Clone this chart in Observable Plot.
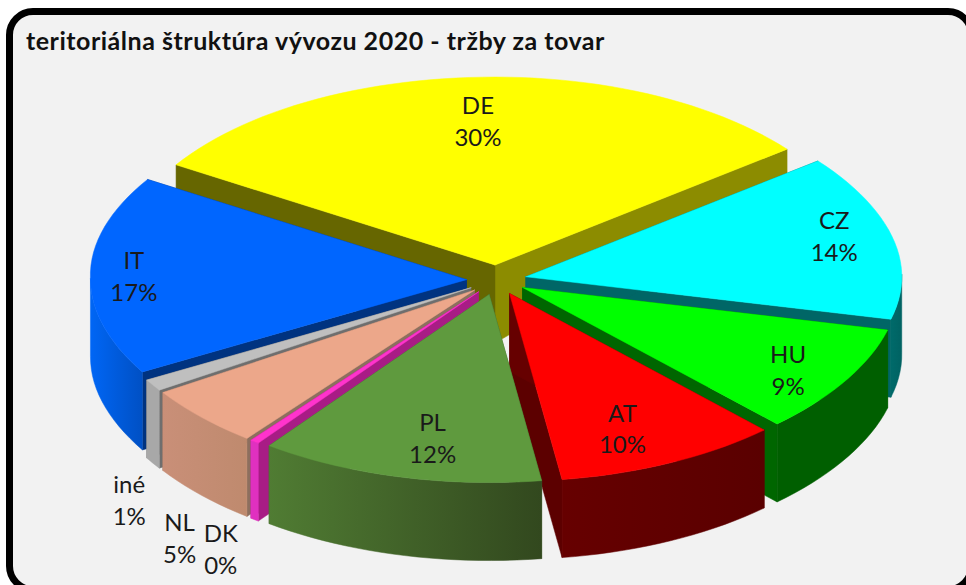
<!DOCTYPE html>
<html><head><meta charset="utf-8">
<style>
html,body{margin:0;padding:0;background:#fff;width:966px;height:585px;overflow:hidden}
#frame{position:absolute;left:6px;top:8px;width:969px;height:585px;box-sizing:border-box;border:7.5px solid #000;border-radius:27px;background:#f2f2f2}
#chart{position:absolute;left:0;top:0}
#title{position:absolute;left:26px;top:25px;font:bold 25px Lato,"Open Sans",sans-serif;letter-spacing:.52px;color:#111;white-space:nowrap}
svg{background:transparent !important}
</style>
<script src="https://cdn.jsdelivr.net/npm/d3@7"></script>
<script src="https://cdn.jsdelivr.net/npm/@observablehq/plot@0.6"></script>
</head><body>
<div id="frame"></div><div id="chart"></div>
<div id="title">teritoriálna štruktúra vývozu 2020 - tržby za tovar</div>
<script>
const categories = ["DE","CZ","HU","AT","PL","DK","NL","iné","IT"];
const shares     = [30.49,14.2,9.3,9.8,12.4,0.4,5.3,1.0,17.11];
const topColors  = ["#ffff00","#00ffff","#00ff00","#ff0000","#5f9a3e","#ff33cc","#eca78a","#bfbfbf","#0066ff"];
const startFace  = ["#666600","#006666","#006600","#660000","#3f5c28","#a81c85","#8c6f5e","#6e6e6e","#003380"];
const endFace    = ["#8c8c00","#006666","#006600","#5c0000","#3f5c28","#a81c85","#8c6f5e","#6e6e6e","#003380"];
const rimLeft    = ["#666600","#006a6a","#005f00","#660000","#507c33","#e030c0","#c98f78","#a8a8a8","#0066f5"];
const rimRight   = ["#8c8c00","#006262","#005f00","#5a0000","#32481e","#e030c0","#bf8a6e","#a8a8a8","#0050c4"];
const drawOrder  = ["DE","CZ","IT","HU","iné","NL","DK","AT","PL"];
const labelReachX = [0.89,0.84,0.814,0.69,0.615,1.133,1.064,1.062,0.885];
const labelReachY = [0.76,0.97,0.902,0.808,0.797,1.727,1.964,2.20,0.33];

// pie model
const firstAngle = 302.2, cx = 496, cy = 279.5, rx = 370, rxBulge = 6, backLeftBulge = 10, labelRx = 376, ry = 188, explode = 30;
const rad = a => a * Math.PI / 180;
const total = d3.sum(shares);
let acc = firstAngle;
const wedges = categories.map((name, i) => {
  const a0 = acc, a1 = acc + shares[i] / total * 360; acc = a1;
  const mid = (a0 + a1) / 2;
  const ax = cx + explode * Math.sin(rad(mid));
  const ay = cy - explode * 0.5 * Math.cos(rad(mid));
  return {name, i, a0, a1, mid, ax, ay, share: shares[i]};
});
const depth = y => Math.max(25, Math.min(78, 25 + (y - 150) * 0.465));
const rimPoint = (w, a) => {
  const s = Math.sin(rad(a)), c = Math.cos(rad(a));
  const skew = s < 0 && c > 0 ? backLeftBulge * c * s : 0;
  return [w.ax + s * (rx + rxBulge * s ** 8) + skew, w.ay - ry * c];
};
const down = ([x, y]) => [x, y + depth(y)];

const polys = [];
let pid = 0;
const add = (pts, color) => { pid++; [...pts, pts[0]].forEach(p => polys.push({id: pid, x: p[0], y: p[1], color})); };
for (const name of drawOrder) {
  const w = wedges[categories.indexOf(name)];
  const apex = [w.ax, w.ay];
  const ps = rimPoint(w, w.a0), pe = rimPoint(w, w.a1);
  add([apex, pe, down(pe), down(apex)], endFace[w.i]);
  add([apex, ps, down(ps), down(apex)], startFace[w.i]);
  const n = Math.max(2, Math.ceil((w.a1 - w.a0) / 2));
  const angles = d3.range(n + 1).map(k => w.a0 + (w.a1 - w.a0) * k / n);
  const front = angles.filter(a => Math.cos(rad(a)) <= 0.03).map(a => rimPoint(w, a));
  if (front.length > 1) add([...front, ...front.map(down).reverse()], `url(#rim${w.i})`);
  add([apex, ...angles.map(a => rimPoint(w, a))], topColors[w.i]);
}

const labels = wedges.map(w => ({
  text: `${w.name}\n${d3.format(".0f")(w.share)}%`,
  x: w.ax + labelReachX[w.i] * labelRx * Math.sin(rad(w.mid)),
  y: w.ay - labelReachY[w.i] * ry * Math.cos(rad(w.mid))
}));

const chart = Plot.plot({
  width: 966, height: 585, margin: 0,
  style: {background: "transparent"},
  x: {domain: [0, 966], range: [0, 966], axis: null},
  y: {domain: [0, 585], range: [0, 585], axis: null},
  color: {type: "identity"},
  marks: [
    Plot.line(polys, {x: "x", y: "y", z: "id", fill: "color", stroke: "color", strokeWidth: 0.5, curve: "linear"}),
    Plot.text(labels, {x: "x", y: "y", dy: -3, text: "text", lineHeight: 1.333, fontSize: 24, fontFamily: "Lato, 'Open Sans', sans-serif", fill: "#1a1a1a", textAnchor: "middle"})
  ]
});
const defs = d3.select(chart).insert("defs", ":first-child");
wedges.forEach(w => {
  const g = defs.append("linearGradient").attr("id", `rim${w.i}`).attr("x1", 0).attr("x2", 1).attr("y1", 0).attr("y2", 0);
  g.append("stop").attr("offset", 0).attr("stop-color", rimLeft[w.i]);
  g.append("stop").attr("offset", 1).attr("stop-color", rimRight[w.i]);
});
document.getElementById("chart").appendChild(chart);
</script>
</body></html>
